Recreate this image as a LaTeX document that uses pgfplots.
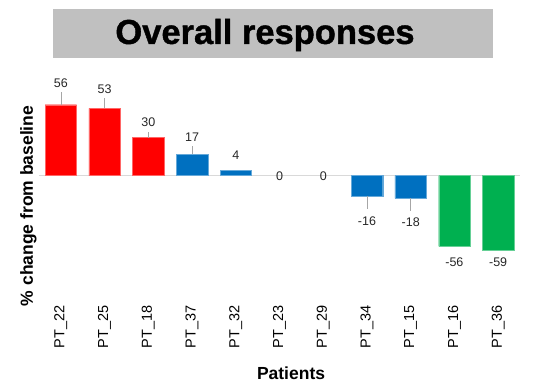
\documentclass[border=0pt]{standalone}
\usepackage{pgfplots}
\pgfplotsset{compat=1.18}
\usepackage{fontspec}
\setmainfont{Liberation Sans}
\newfontfamily\titlefont{Liberation Sans Bold}[FakeBold=1.2]
\definecolor{cred}{HTML}{FF0000}
\definecolor{cblue}{HTML}{0070C0}
\definecolor{cgreen}{HTML}{00B050}
\definecolor{tbox}{HTML}{C0C0C0}
\definecolor{zline}{HTML}{D9D9D9}
\begin{document}
\begin{tikzpicture}[x=1pt,y=1pt]
\path[use as bounding box] (0,0) rectangle (536,391);
\node[fill=tbox, minimum width=440pt, minimum height=49pt, inner sep=0pt] at (273,357.5) {};
\node[font=\fontsize{34.5}{34.5}\selectfont\titlefont, inner sep=0pt] at (265,356) {Overall responses};
\begin{axis}[
 at={(39pt,89pt)}, anchor=south west,
 scale only axis, width=481pt, height=215pt,
 xmin=-0.5, xmax=10.5, ymin=-100, ymax=70,
 axis line style={draw=none},
 clip=false,
 ytick=\empty,
 xtick={0,...,10},
 xticklabels={PT\_22,PT\_25,PT\_18,PT\_37,PT\_32,PT\_23,PT\_29,PT\_34,PT\_15,PT\_16,PT\_36},
 major tick length=0pt,
 xticklabel style={rotate=90, anchor=east, font=\fontsize{14.5}{14.5}\selectfont},
 ylabel={\% change from baseline},
 ylabel style={at={(axis description cs:-0.022,0.447)}, anchor=center, font=\fontsize{17.5}{17.5}\selectfont\bfseries},
 xlabel={Patients},
 xlabel style={at={(axis description cs:0.524,-0.33)}, anchor=center, font=\fontsize{17.5}{17.5}\selectfont\bfseries},
]
\addplot[zline, line width=0.8pt] coordinates {(-0.5,0) (10.5,0)};
\addplot[ybar, bar shift=0pt, bar width=31.5pt, fill=cred, draw=cred!60, line width=0.3pt] coordinates {(0,56) (1,53) (2,30)};
\addplot[ybar, bar shift=0pt, bar width=31.5pt, fill=cblue, draw=cblue!60, line width=0.3pt] coordinates {(3,17) (4,4) (7,-16) (8,-18)};
\addplot[ybar, bar shift=0pt, bar width=31.5pt, fill=cgreen, draw=cgreen!60, line width=0.3pt] coordinates {(9,-56) (10,-59)};
% leader lines
\addplot[draw=none, mark=none, error bars/.cd, y dir=plus, y explicit, error mark=none, error bar style={black!35, line width=0.6pt}]
 coordinates {(0,56) +- (0,10) (1,53) +- (0,8) (2,30) +- (0,4.6) (3,17) +- (0,6.6)};
\addplot[draw=none, mark=none, error bars/.cd, y dir=minus, y explicit, error mark=none, error bar style={black!35, line width=0.6pt}]
 coordinates {(7,-16) +- (0,10.8) (8,-18) +- (0,10)};
% value labels
\addplot[only marks, mark=none, nodes near coords, point meta=explicit symbolic,
 nodes near coords style={anchor=center, font=\fontsize{12.5}{12.5}\selectfont, text=black!85}]
 coordinates {(0,73)[56] (1,68)[53] (2,42)[30] (3,30.7)[17] (4,15.7)[4] (5,-0.8)[0] (6,-0.8)[0] (7,-36)[-16] (8,-36.8)[-18] (9,-68.5)[-56] (10,-68.5)[-59]};
\end{axis}
\end{tikzpicture}
\end{document}
